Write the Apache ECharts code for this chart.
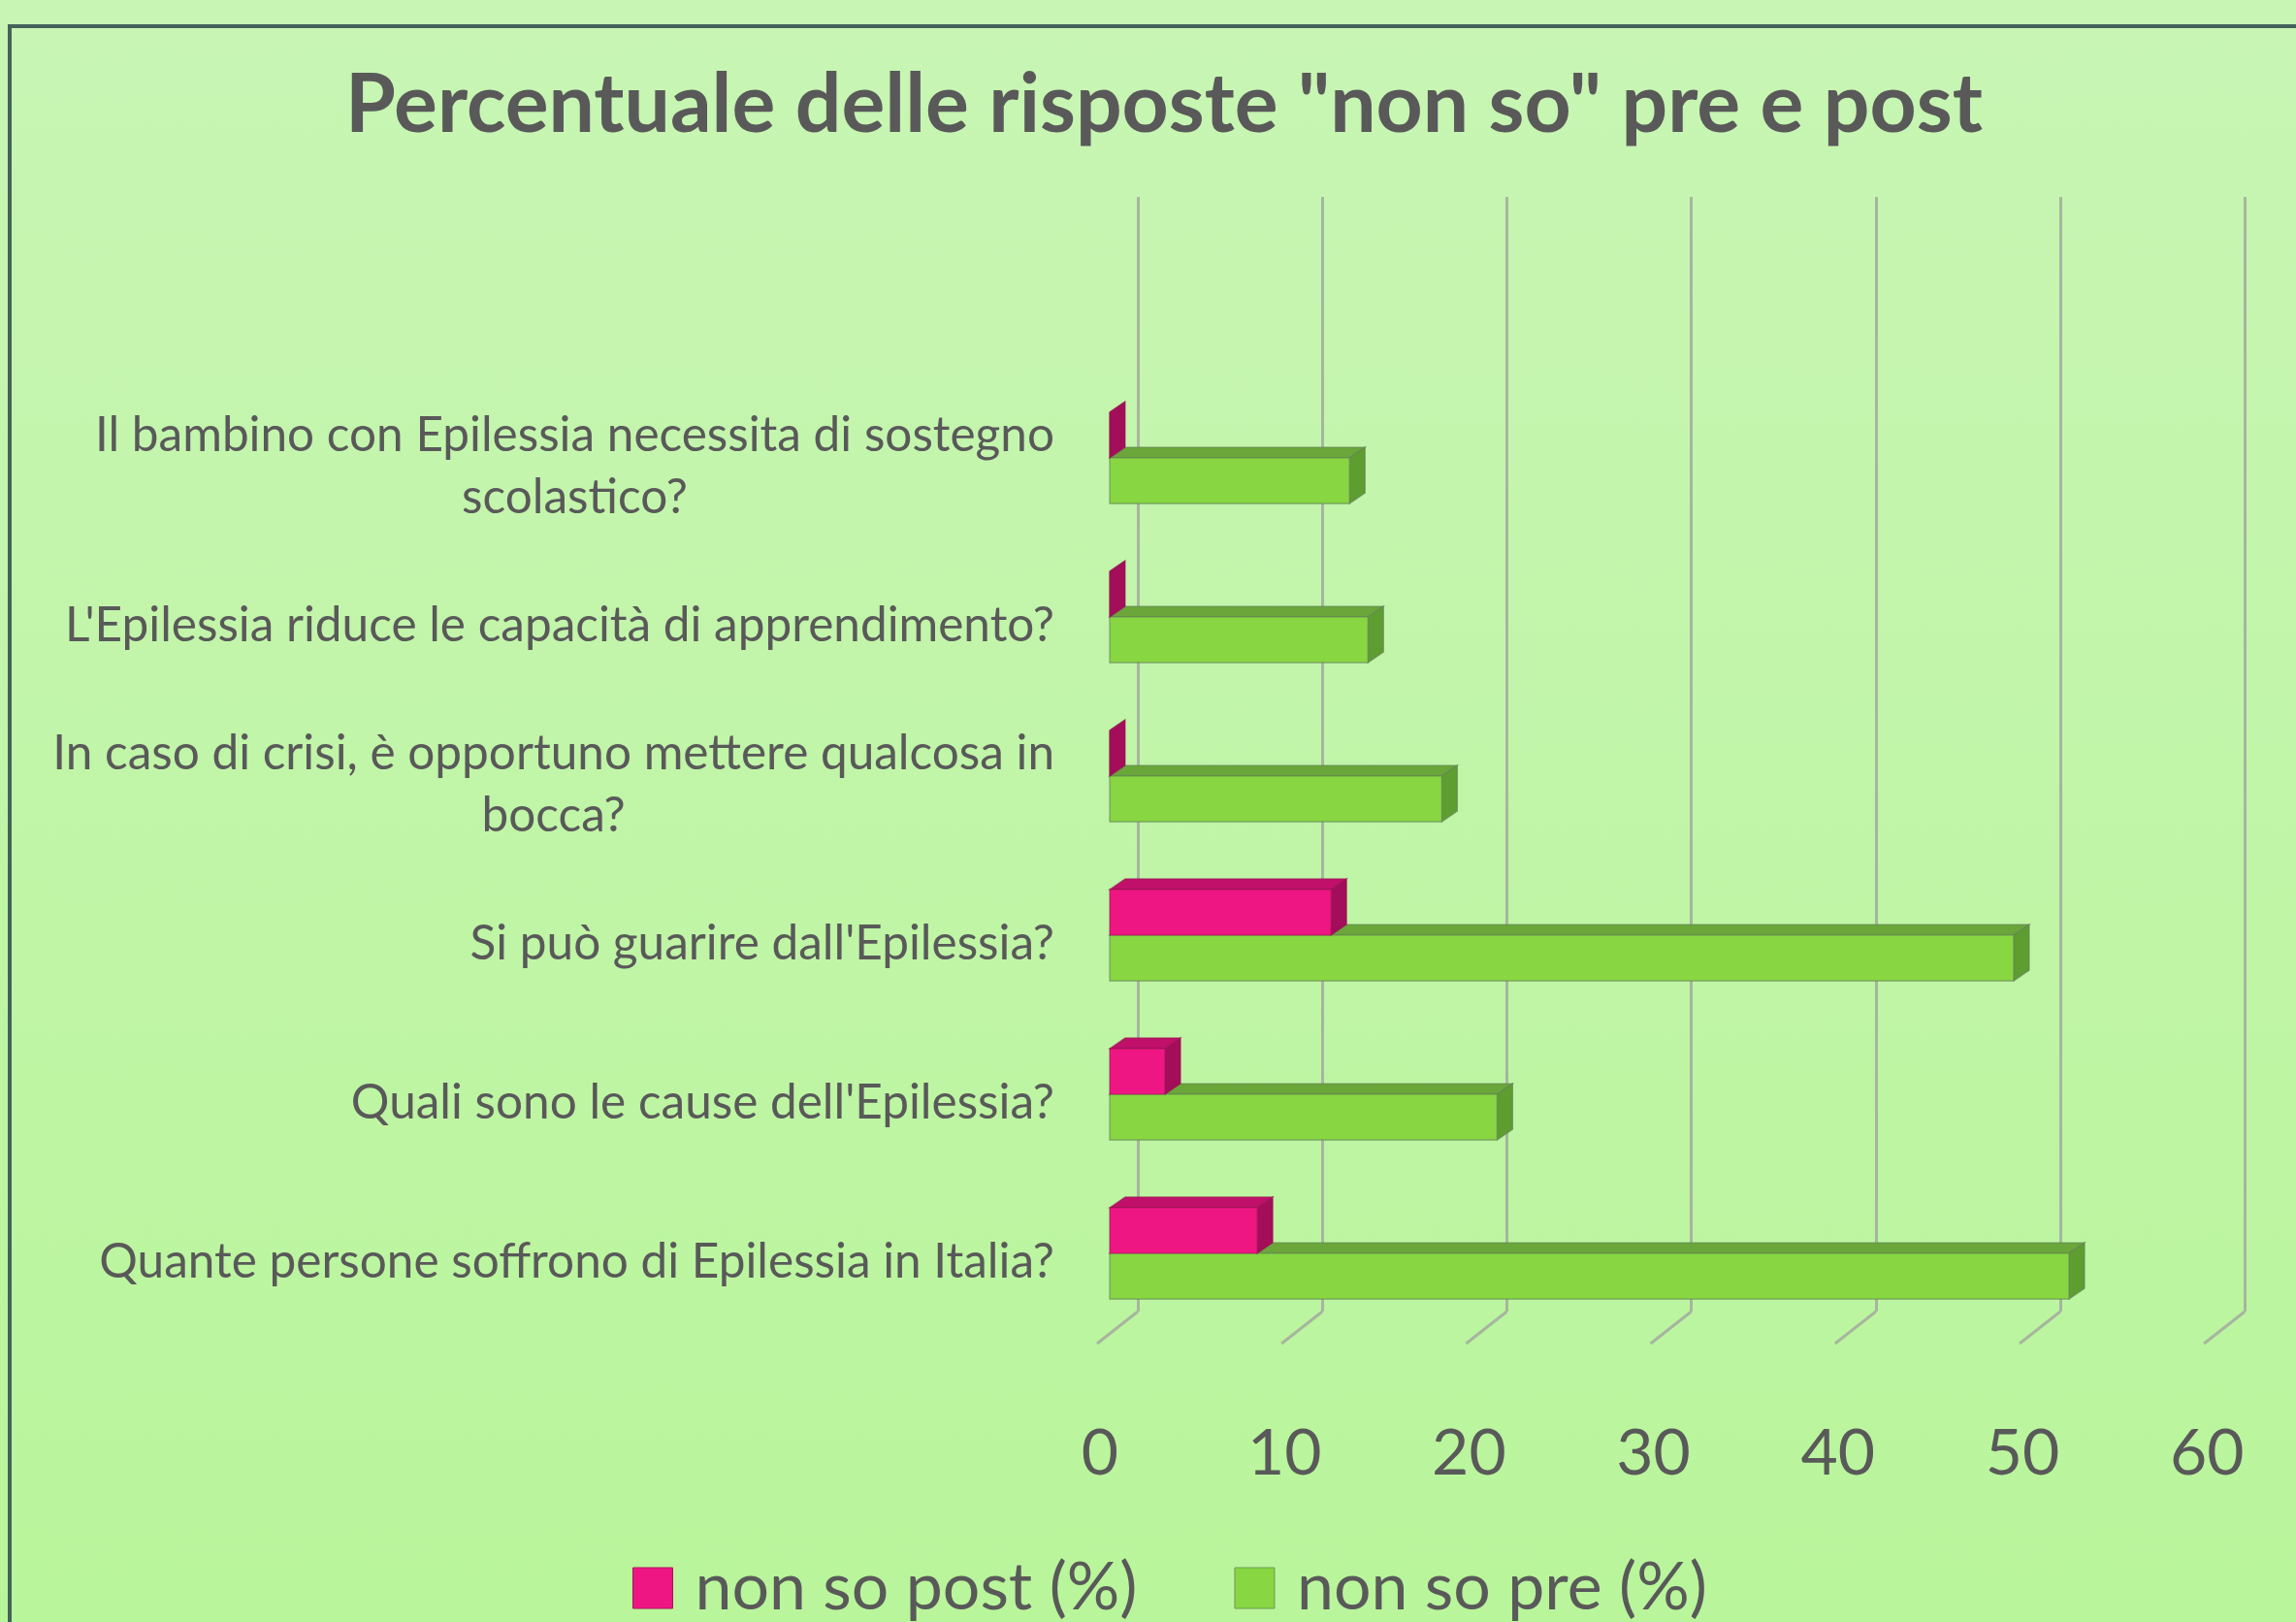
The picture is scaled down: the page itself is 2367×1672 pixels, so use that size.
<!DOCTYPE html>
<html>
<head>
<meta charset="utf-8">
<script src="https://cdn.jsdelivr.net/npm/echarts@6/dist/echarts.min.js"></script>
<style>
html,body{margin:0;padding:0;}
#chart{width:2367px;height:1672px;background:linear-gradient(#c8f5b4,#b9f59b);}
</style>
</head>
<body>
<div id="chart"></div>
<script>
// ---- data ----
const categories = [
  "Il bambino con Epilessia necessita di sostegno\nscolastico?",
  "L'Epilessia riduce le capacità di apprendimento?",
  "In caso di crisi, è opportuno mettere qualcosa in\nbocca?",
  "Si può guarire dall'Epilessia?",
  "Quali sono le cause dell'Epilessia?",
  "Quante persone soffrono di Epilessia in Italia?"
];
const postValues = [0, 0, 0, 12, 3, 8];
const preValues = [13, 14, 18, 49, 21, 52];
const xTicks = [0, 10, 20, 30, 40, 50, 60];
const seriesNames = ["non so post (%)", "non so pre (%)"];
const titleText = 'Percentuale delle risposte "non so" pre e post';

// ---- styles ----
const FONT = "Lato";
const TEXT_COLOR = "#595959";
const GRID_COLOR = "#a7b59f";
const pink = { front: "#ee1683", top: "#c0106a", side: "#a30d5a", edge: "rgba(150,20,80,0.6)" };
const green = { front: "#87d642", top: "#6aa63a", side: "#5e9d30", edge: "rgba(100,130,90,0.7)" };
const DX = 16, DY = -11;      // bar depth
const FX = -42, FY = 33;      // floor depth
const BAR_RATIO = 0.287;

function bar3d(col, slot) {
  return function (params, api) {
    const v = api.value(0), ci = api.value(1);
    const c = api.coord([0, ci]);
    const e = api.coord([v, ci]);
    const band = api.size([0, 1])[1];
    const h = band * BAR_RATIO;
    const y0 = slot === 0 ? c[1] - h : c[1];
    const y1 = y0 + h;
    const x0 = c[0], x1 = e[0];
    const st = (f) => ({ fill: f, stroke: col.edge, lineWidth: 1.2 });
    return {
      type: "group",
      children: [
        { type: "polygon", shape: { points: [[x0, y0], [x1, y0], [x1 + DX, y0 + DY], [x0 + DX, y0 + DY]] }, style: st(col.top) },
        { type: "polygon", shape: { points: [[x1, y0], [x1, y1], [x1 + DX, y1 + DY], [x1 + DX, y0 + DY]] }, style: st(col.side) },
        { type: "rect", shape: { x: x0, y: y0, width: x1 - x0, height: h }, style: st(col.front) }
      ]
    };
  };
}

const chart = echarts.init(document.getElementById("chart"), null, { renderer: "canvas" });

const option = {
  animation: false,
  backgroundColor: "transparent",
  title: {
    text: titleText,
    left: 356,
    top: 67,
    padding: 0,
    textStyle: { fontFamily: FONT, fontWeight: "bold", fontSize: 84, color: TEXT_COLOR }
  },
  legend: {
    data: [
      { name: seriesNames[0], itemStyle: { color: pink.front, borderColor: "#b0105c", borderWidth: 1 } },
      { name: seriesNames[1], itemStyle: { color: green.front, borderColor: "#6f9a58", borderWidth: 1 } }
    ],
    icon: "rect",
    itemWidth: 41,
    itemHeight: 42,
    itemGap: 100,
    left: 652,
    top: 1603,
    padding: 0,
    textStyle: { fontFamily: FONT, fontSize: 68, color: TEXT_COLOR, padding: [0, 0, 0, 18] }
  },
  graphic: [
    { type: "rect", shape: { x: 10, y: 27, width: 2400, height: 1700 }, style: { fill: null, stroke: "#45625a", lineWidth: 4 }, silent: true }
  ],
  grid: [
    { left: 1144, top: 390, width: 1141.2, height: 984 },   // bars
    { left: 1173, top: 203, width: 1141.2, height: 1149 },  // back wall
    { left: 1134, top: 1380, width: 1141.2, height: 4 }     // front labels
  ],
  xAxis: [
    { gridIndex: 0, type: "value", min: 0, max: 60, interval: 10, show: false },
    {
      gridIndex: 1, type: "value", min: 0, max: 60, interval: 10,
      axisLine: { show: false }, axisTick: { show: false }, axisLabel: { show: false },
      splitLine: { show: true, lineStyle: { color: GRID_COLOR, width: 3 } }
    },
    {
      gridIndex: 2, type: "value", min: 0, max: 60, interval: 10,
      axisLine: { show: false }, axisTick: { show: false }, splitLine: { show: false },
      axisLabel: {
        show: true, margin: 115, verticalAlign: "middle",
        fontFamily: FONT, fontSize: 66, color: TEXT_COLOR,
        formatter: (v) => String(v)
      }
    }
  ],
  yAxis: [
    {
      gridIndex: 0, type: "category", data: categories, inverse: true,
      axisLine: { show: false }, axisTick: { show: false }, splitLine: { show: false },
      axisLabel: {
        margin: 57, align: "right", padding: [18, 0, 0, 0],
        formatter: (val) => val.split("\n").map((l) => "{c|" + l + "}").join("\n"),
        rich: { c: { align: "center", fontFamily: FONT, fontSize: 49.5, color: TEXT_COLOR, lineHeight: 64 } }
      }
    },
    { gridIndex: 1, type: "value", min: 0, max: 1, show: false },
    { gridIndex: 2, type: "value", min: 0, max: 1, show: false }
  ],
  series: [
    {
      name: "floor",
      type: "custom",
      xAxisIndex: 1, yAxisIndex: 1,
      silent: true,
      clip: false,
      data: xTicks.map((t) => [t, 0]),
      renderItem: function (params, api) {
        const p = api.coord([api.value(0), 0]);
        return {
          type: "line",
          shape: { x1: p[0], y1: p[1], x2: p[0] + FX, y2: p[1] + FY },
          style: { stroke: GRID_COLOR, lineWidth: 3 }
        };
      }
    },
    {
      name: seriesNames[1],
      type: "custom",
      xAxisIndex: 0, yAxisIndex: 0,
      z: 3,
      clip: false,
      itemStyle: { color: green.front },
      encode: { x: 0, y: 1 },
      data: preValues.map((v, i) => [v, i]),
      renderItem: bar3d(green, 1)
    },
    {
      name: seriesNames[0],
      type: "custom",
      xAxisIndex: 0, yAxisIndex: 0,
      z: 4,
      clip: false,
      itemStyle: { color: pink.front },
      encode: { x: 0, y: 1 },
      data: postValues.map((v, i) => [v, i]),
      renderItem: bar3d(pink, 0)
    }
  ]
};
chart.setOption(option);
</script>
</body>
</html>
